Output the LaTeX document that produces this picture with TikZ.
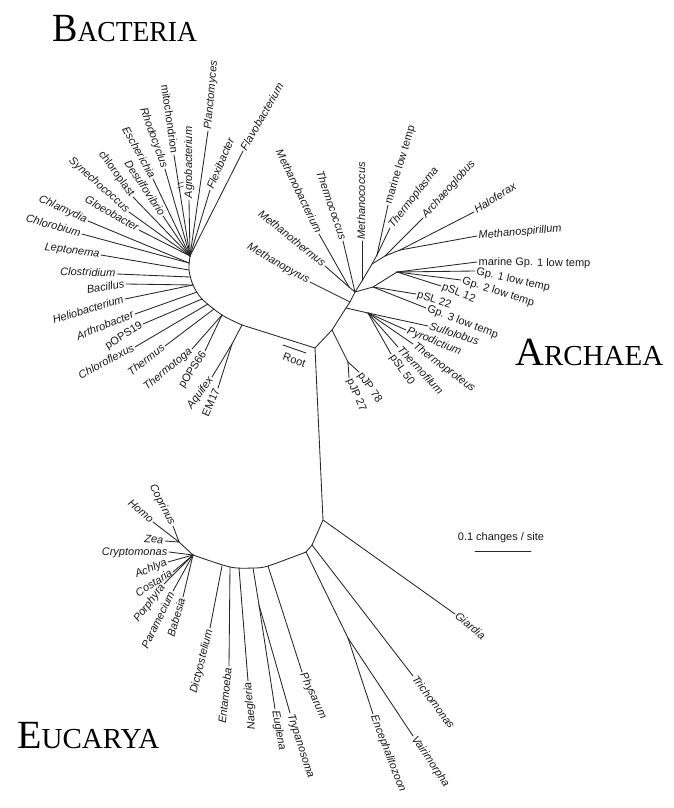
\documentclass[tikz,border=0pt]{standalone}
\usepackage{fontspec}
\newfontfamily\lsans{Liberation Sans}
\newfontfamily\lserif{Liberation Serif}
\newcommand\lblsize{\fontsize{11}{13}\selectfont}
\newcommand\bigsc[2]{{\lserif\fontsize{40}{40}\selectfont #1\fontsize{29}{29}\selectfont #2}}
\begin{document}
\begin{tikzpicture}[x=1pt,y=-1pt,
  br/.style={line width=0.85pt, draw=black!85, line cap=round, line join=round},
  lab/.style={font=\lsans\lblsize, inner sep=1.5pt, text height=8pt, text depth=2pt, text=black!90},
  it/.style={lab, font=\lsans\itshape\lblsize},
  ttl/.style={anchor=base west, inner sep=0pt, text=black}]
\useasboundingbox (0,0) rectangle (673,808);
\fill[white] (0,0) rectangle (673,808);

% titles
\node[ttl] (tB) at (52,42) {\scalebox{0.95}[1]{\bigsc{B}{ACTERIA}}};
\node[ttl] (tA) at (515,365) {\bigsc{A}{RCHAEA}};
\node[ttl] (tE) at (17,748) {\bigsc{E}{UCARYA}};

% ---------- internal nodes ----------
\coordinate (R) at (315,348);
\coordinate (bt) at (190,256);
\coordinate (b1) at (189,263);
\coordinate (b2) at (189,270);
\coordinate (b3) at (190,277);
\coordinate (b4) at (193,285);
\coordinate (b5) at (197,292);
\coordinate (b6) at (202,299);
\coordinate (b7) at (208,304);
\coordinate (b7b) at (214,309);
\coordinate (b8) at (222,315);
\coordinate (bA) at (242,325);
\coordinate (ae) at (232,344);

\coordinate (A1) at (332,330);
\coordinate (A2) at (346,308);
\coordinate (mp) at (350,302);
\coordinate (eu2) at (355,292);
\coordinate (mt) at (349,287);
\coordinate (eu3) at (362,281);
\coordinate (eu4) at (372,264);
\coordinate (ml) at (377,255);
\coordinate (eu5) at (385,256);
\coordinate (eu6) at (400,250);
\coordinate (lowT) at (373,287);
\coordinate (lowT2) at (397,272);
\coordinate (C1) at (368,313);
\coordinate (pj) at (348,362);

\coordinate (E1) at (323,520);
\coordinate (E2) at (312,545);
\coordinate (E3) at (306,552);
\coordinate (ev) at (348,638);
\coordinate (ePh) at (268,566);
\coordinate (eTr) at (253,568);
\coordinate (et) at (259,605);
\coordinate (eNa) at (239,568);
\coordinate (eEn) at (230,567);
\coordinate (eDi) at (222,566);
\coordinate (ec) at (193,555);
\coordinate (zh) at (179,542);

% ---------- backbone ----------
\draw[br] (bA) -- (R) -- (A1) -- (A2) -- (mp) -- (eu2) -- (eu3) -- (eu4) -- (eu5) -- (eu6);
\draw[br] (R) -- (E1) -- (E2) -- (E3);
\draw[br] plot[smooth] coordinates {(bt) (b2) (b4) (b6) (b8) (bA)};
\draw[br] plot[smooth] coordinates {(E3) (ePh) (eTr) (eEn) (ec)};
\draw[br] (bA) -- (ae);
\draw[br] (A1) -- (pj);
\draw[br] (A2) -- (C1);
\draw[br] (eu2) -- (mt);
\draw[br] (eu2) -- (lowT) -- (lowT2);
\draw[br] (eu4) -- (ml);
\draw[br] (E3) -- (ev);
\draw[br] (eTr) -- (et);
\draw[br] (ec) -- (zh);

% ---------- Bacteria ----------
\node[it,anchor=west,rotate=60] (flavo) at (243,151) {Flavobacterium};
\node[it,anchor=west,rotate=67] (flexi) at (210,190) {Flexibacter};
\node[it,anchor=west,rotate=85] (planc) at (208,131) {Planctomyces};
\node[it,anchor=west,rotate=90] (agro) at (189,200) {Agrobacterium};
\node[lab,anchor=east,rotate=-82] (mito) at (174,155) {mitochondrion};
\node[it,anchor=east,rotate=-70] (rhodo) at (165,169) {Rhodocyclus};
\node[it,anchor=east,rotate=-61] (esch) at (153,179) {Escherichia};
\node[it,anchor=east,rotate=-56] (desulf) at (163,216) {Desulfovibrio};
\node[lab,anchor=east,rotate=-54] (chloro) at (133,197) {chloroplast};
\node[it,anchor=east,rotate=-42] (syne) at (129,212) {Synechococcus};
\node[it,anchor=east,rotate=-30] (gloeo) at (139,230) {Gloeobacter};
\node[it,anchor=east,rotate=-25] (chlam) at (88,221) {Chlamydia};
\node[it,anchor=east,rotate=-15] (chlorob) at (82,234) {Chlorobium};
\node[it,anchor=east,rotate=-8] (lepto) at (101,255) {Leptonema};
\node[it,anchor=east,rotate=-2] (clost) at (117,274) {Clostridium};
\node[it,anchor=east,rotate=10] (bacil) at (126,284) {Bacillus};
\node[it,anchor=east,rotate=17] (helio) at (125,299) {Heliobacterium};
\node[it,anchor=east,rotate=22] (arthro) at (135,314) {Arthrobacter};
\node[lab,anchor=east,rotate=32] (pops19) at (143,324) {pOPS19};
\node[it,anchor=east,rotate=28] (chlfx) at (135,347) {Chloroflexus};
\node[it,anchor=east,rotate=38] (therm) at (165,346) {Thermus};
\node[it,anchor=east,rotate=40] (ttoga) at (192,349) {Thermotoga};
\node[lab,anchor=east,rotate=57] (pops66) at (205,351) {pOPS66};
\node[it,anchor=east,rotate=54] (aquif) at (212,377) {Aquifex};
\node[lab,anchor=east,rotate=66] (em17) at (218,388) {EM17};

\foreach \n in {flavo,flexi,planc,agro} \draw[br] (bt) -- (\n.west);
\foreach \n in {mito,rhodo,esch,desulf,chloro,syne,gloeo} \draw[br] (bt) -- (\n.east);
\draw[br] (b1) -- (chlam.east);
\draw[br] (b1) -- (chlorob.east);
\draw[br] (b2) -- (lepto.east);
\draw[br] (b3) -- (clost.east);
\draw[br] (b4) -- (bacil.east);
\draw[br] (b4) -- (helio.east);
\draw[br] (b5) -- (arthro.east);
\draw[br] (b6) -- (pops19.east);
\draw[br] (b7) -- (chlfx.east);
\draw[br] (b7b) -- (therm.east);
\draw[br] (b8) -- (ttoga.east);
\draw[br] (b8) -- (pops66.east);
\draw[br] (ae) -- (aquif.east);
\draw[br] (ae) -- (em17.east);

% mitochondrion break mark
\coordinate (mk) at (180.5,185);
\draw[br, line width=0.6pt] ([shift={(-3,-1)}]mk) -- ([shift={(3,-3)}]mk);
\draw[br, line width=0.6pt] ([shift={(-3,3)}]mk) -- ([shift={(3,1)}]mk);

% Root
\coordinate (rt1) at (283,345);
\coordinate (rt2) at (306,353);
\draw[br] (rt1) -- (rt2);
\node[lab,rotate=-20] (root) at (294,361) {Root};

% ---------- Archaea ----------
\node[it,anchor=east,rotate=-30] (mpyr) at (310,282) {Methanopyrus};
\node[it,anchor=east,rotate=-39] (mthe) at (325,266) {Methanothermus};
\node[it,anchor=east,rotate=-64] (mbac) at (319,234) {Methanobacterium};
\node[it,anchor=east,rotate=-71] (tcoc) at (343,241) {Thermococcus};
\node[it,anchor=west,rotate=90] (mcoc) at (362,241) {Methanococcus};
\node[lab,anchor=west,rotate=73] (mlt) at (388,205) {marine low temp};
\node[it,anchor=west,rotate=52] (tpla) at (390,228) {Thermoplasma};
\node[it,anchor=west,rotate=48] (arch) at (423,218) {Archaeoglobus};
\node[it,anchor=west,rotate=32] (halo) at (474,212) {Haloferax};
\node[it,anchor=west,rotate=5] (mspi) at (477,236) {Methanospirillum};
\node[lab,anchor=west,rotate=-1] (mg1) at (477,262) {marine Gp. 1 low temp};
\node[lab,anchor=west,rotate=-13] (g1) at (475,271) {Gp. 1 low temp};
\node[lab,anchor=west,rotate=-18] (g2) at (461,280) {Gp. 2 low temp};
\node[lab,anchor=west,rotate=-22] (psl12) at (441,286) {pSL 12};
\node[lab,anchor=west,rotate=-18] (psl22) at (416,294) {pSL 22};
\node[lab,anchor=west,rotate=-21] (g3) at (426,308) {Gp. 3 low temp};
\node[it,anchor=west,rotate=-18] (sulf) at (428,326) {Sulfolobus};
\node[it,anchor=west,rotate=-22] (pyro) at (406,330) {Pyrodictium};
\node[it,anchor=west,rotate=-37] (tprot) at (413,344) {Thermoproteus};
\node[it,anchor=west,rotate=-47] (tfil) at (398,347) {Thermofilum};
\node[lab,anchor=west,rotate=-55] (psl50) at (391,354) {pSL 50};
\node[lab,anchor=west,rotate=-55] (pjp78) at (359,372) {pJP 78};
\node[lab,anchor=west,rotate=-67] (pjp27) at (349,378) {pJP 27};

\draw[br] (mp) -- (mpyr.east);
\draw[br] (mt) -- (mthe.east);
\draw[br] (mt) -- (mbac.east);
\draw[br] (eu2) -- (tcoc.east);
\draw[br] (eu3) -- (mcoc.west);
\draw[br] (ml) -- (mlt.west);
\draw[br] (ml) -- (tpla.west);
\draw[br] (eu5) -- (arch.west);
\draw[br] (eu6) -- (halo.west);
\draw[br] (eu6) -- (mspi.west);
\draw[br] (lowT2) -- (mg1.west);
\draw[br] (lowT2) -- (g1.west);
\draw[br] (lowT2) -- (g2.west);
\draw[br] (lowT2) -- (psl12.west);
\draw[br] (lowT) -- (psl22.west);
\draw[br] (lowT) -- (g3.west);
\foreach \n in {sulf,pyro,tprot,tfil,psl50} \draw[br] (C1) -- (\n.west);
\draw[br] (pj) -- (pjp78.west);
\draw[br] (pj) -- (pjp27.west);

% ---------- Eucarya ----------
\node[it,anchor=west,rotate=-40] (giar) at (455,614) {Giardia};
\node[it,anchor=west,rotate=-53] (trich) at (413,676) {Trichomonas};
\node[it,anchor=west,rotate=-56] (vair) at (413,736) {Vairimorpha};
\node[it,anchor=west,rotate=-69] (ence) at (373,714) {Encephalitozoon};
\node[it,anchor=west,rotate=-65] (phys) at (302,672) {Physarum};
\node[it,anchor=west,rotate=-72] (tryp) at (290,713) {Trypanosoma};
\node[it,anchor=west,rotate=-80] (eugl) at (275,709) {Euglena};
\node[it,anchor=east,rotate=95] (naeg) at (248,681) {Naegleria};
\node[it,anchor=east,rotate=84] (enta) at (229,666) {Entamoeba};
\node[it,anchor=east,rotate=76] (dict) at (210,628) {Dictyostelium};
\node[it,anchor=east,rotate=74] (babe) at (183,597) {Babesia};
\node[it,anchor=east,rotate=64] (para) at (173,591) {Paramecium};
\node[it,anchor=east,rotate=53] (porp) at (164,584) {Porphyra};
\node[it,anchor=east,rotate=32] (cost) at (173,572) {Costaria};
\node[it,anchor=east,rotate=22] (achl) at (168,562) {Achlya};
\node[it,anchor=east,rotate=0] (cryp) at (169,552) {Cryptomonas};
\node[it,anchor=east,rotate=-5] (zea) at (165,541) {Zea};
\node[it,anchor=east,rotate=-40] (homo) at (153,522) {Homo};
\node[it,anchor=east,rotate=-63] (copr) at (173,526) {Coprinus};

\draw[br] (E1) -- (giar.west);
\draw[br] (E2) -- (trich.west);
\draw[br] (ev) -- (vair.west);
\draw[br] (ev) -- (ence.west);
\draw[br] (ePh) -- (phys.west);
\draw[br] (et) -- (tryp.west);
\draw[br] (et) -- (eugl.west);
\draw[br] (eNa) -- (naeg.east);
\draw[br] (eEn) -- (enta.east);
\draw[br] (eDi) -- (dict.east);
\foreach \n in {babe,para,porp,cost,achl,cryp} \draw[br] (ec) -- (\n.east);
\foreach \n in {zea,homo,copr} \draw[br] (zh) -- (\n.east);

% scale bar
\node[lab] (scl) at (501,537) {0.1 changes / site};
\coordinate (sb1) at (475,551);
\coordinate (sb2) at (531,551);
\draw[br] (sb1) -- (sb2);
\end{tikzpicture}
\end{document}
